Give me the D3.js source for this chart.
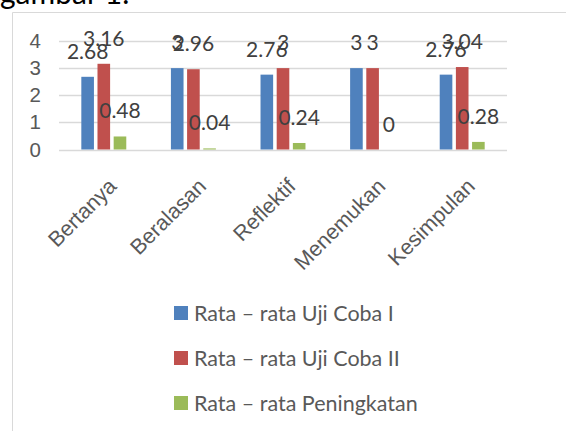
<!DOCTYPE html>
<html>
<head>
<meta charset="utf-8">
<script src="https://cdn.jsdelivr.net/npm/d3@7"></script>
<style>
  html, body { margin: 0; padding: 0; background: #fff; }
  svg { display: block; font-family: Lato, "Open Sans", sans-serif; }
</style>
</head>
<body>
<svg id="chart" width="566" height="431"></svg>
<script>
// Aspek yang diamati
const categories = ["Bertanya", "Beralasan", "Reflektif", "Menemukan", "Kesimpulan"];
// Nilai rata-rata tiap uji coba
const ujiCoba1 = [2.68, 3, 2.76, 3, 2.76];
const ujiCoba2 = [3.16, 2.96, 3, 3, 3.04];
const peningkatan = [0.48, 0.04, 0.24, 0, 0.28];
const seriesNames = ["Rata – rata Uji Coba I", "Rata – rata Uji Coba II", "Rata – rata Peningkatan"];
const seriesColors = ["#4F81BD", "#C0504D", "#9BBB59"];
const yTicks = [0, 1, 2, 3, 4];

const series = [ujiCoba1, ujiCoba2, peningkatan];
const svg = d3.select("#chart");
const textColor = "#595959";

// Judul gambar (terpotong di tepi atas)
svg.append("text")
  .attr("x", 0).attr("y", 4)
  .attr("font-size", 30).attr("fill", "#000")
  .text("gambar 1.");

// Bingkai grafik
svg.append("path")
  .attr("d", "M12.5,431 V12.5 H566")
  .attr("fill", "none").attr("stroke", "#D9D9D9").attr("stroke-width", 1);

const plot = { left: 59, right: 507, top: 41, bottom: 149.5 };

const x = d3.scaleBand().domain(categories).range([plot.left, plot.right]).paddingInner(0).paddingOuter(0);
const y = d3.scaleLinear().domain([0, 4]).range([plot.bottom, plot.top]);
const xs = d3.scaleBand().domain(d3.range(series.length)).range([0, x.bandwidth()]).paddingInner(0.22).paddingOuter(1.38);

// Garis bantu
svg.append("g").selectAll("line").data(yTicks).join("line")
  .attr("x1", plot.left).attr("x2", plot.right)
  .attr("y1", d => Math.round(y(d)) + 0.5).attr("y2", d => Math.round(y(d)) + 0.5)
  .attr("stroke", "#D9D9D9").attr("stroke-width", 1.5);

// Sumbu Y
const yAxis = svg.append("g").attr("transform", `translate(${plot.left},0)`)
  .call(d3.axisLeft(y).tickValues(yTicks).tickFormat(d3.format("d")).tickSize(0).tickPadding(18));
yAxis.select(".domain").remove();
yAxis.selectAll("text").attr("font-size", 20.5).attr("fill", textColor).attr("font-family", null);

// Batang
const groups = svg.append("g").selectAll("g").data(series).join("g")
  .attr("fill", (d, i) => seriesColors[i]);
groups.each(function(vals, si) {
  const g = d3.select(this);
  g.selectAll("rect").data(vals).join("rect")
    .attr("x", (d, ci) => x(categories[ci]) + xs(si))
    .attr("width", xs.bandwidth())
    .attr("y", d => y(d))
    .attr("height", d => y(0) - y(d));
});

// Label nilai
const fmt = v => String(v);
series.forEach((vals, si) => {
  svg.append("g").selectAll("text").data(vals).join("text")
    .attr("x", (d, ci) => x(categories[ci]) + xs(si) + xs.bandwidth() / 2)
    .attr("y", d => y(d) - 18)
    .attr("text-anchor", "middle")
    .attr("font-size", 21).attr("fill", "#404040")
    .text(fmt);
});

// Label kategori (miring)
const xAxis = svg.append("g").attr("transform", `translate(0,${plot.bottom})`)
  .call(d3.axisBottom(x).tickSize(0).tickPadding(0));
xAxis.select(".domain").remove();
xAxis.selectAll("text")
  .attr("font-size", 21.5).attr("fill", textColor).attr("font-family", null)
  .attr("text-anchor", "end")
  .attr("dy", null).attr("y", 0).attr("x", 0)
  .attr("transform", "translate(14,38) rotate(-45)");

// Legenda
const legend = svg.append("g").selectAll("g").data(seriesNames).join("g")
  .attr("transform", (d, i) => `translate(174,${313 + i * 45})`);
legend.append("rect")
  .attr("x", 0).attr("y", -7).attr("width", 14).attr("height", 14)
  .attr("fill", (d, i) => seriesColors[i]);
legend.append("text")
  .attr("x", 20).attr("y", 0).attr("dy", "0.36em")
  .attr("font-size", 21.5).attr("fill", textColor)
  .text(d => d);
</script>
</body>
</html>
